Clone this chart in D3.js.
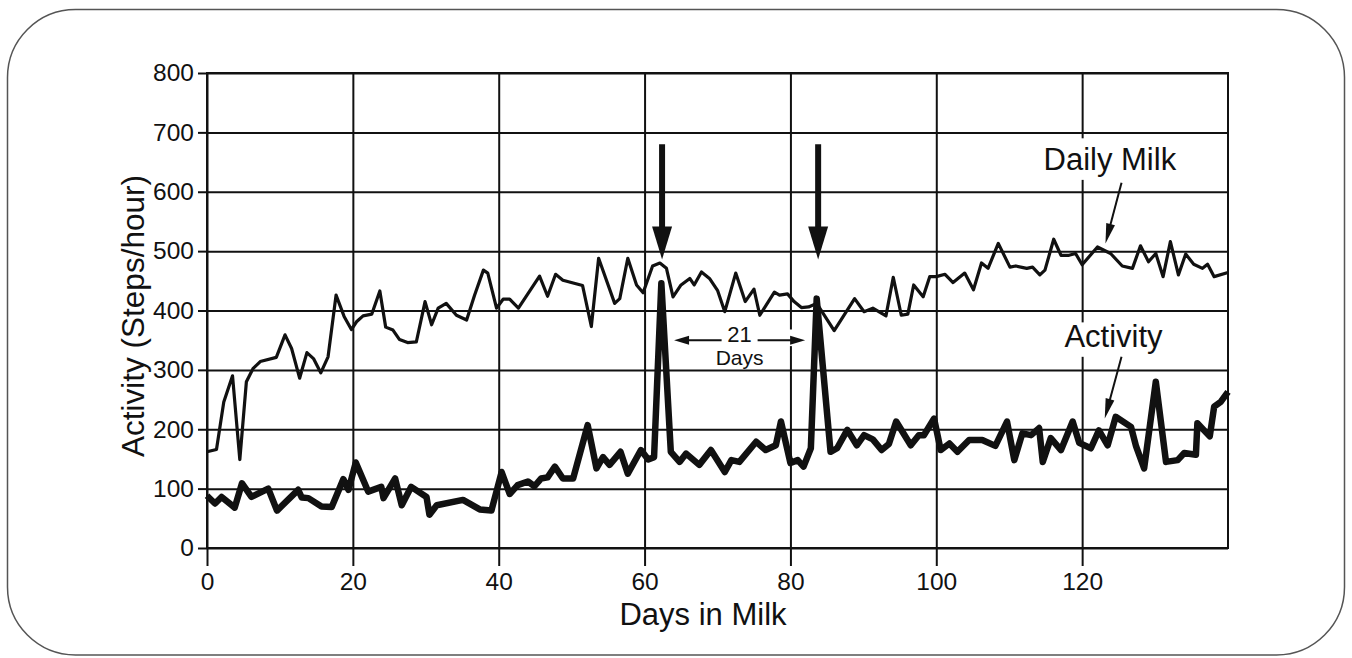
<!DOCTYPE html>
<html>
<head>
<meta charset="utf-8">
<script src="https://cdn.jsdelivr.net/npm/d3@7"></script>
<style>
  body { margin: 0; background: #fff; }
  svg text { font-family: "Liberation Sans", Arial, Helvetica, sans-serif; fill: #111; }
</style>
</head>
<body>
<div id="chart"></div>
<script>
// data
var milkDays = [0, 1.3, 2.3, 3.5, 4.5, 5.4, 6.3, 7.3, 9.5, 10.7, 11.6, 12.7, 13.7, 14.6, 15.6, 16.6, 17.7, 18.8, 19.8,
	20.5, 21.4, 22.6, 23.7, 24.5, 25.5, 26.4, 27.5, 28.7, 29.9, 30.8, 31.7, 32.8, 34.2, 35.6, 36.7, 37.9, 38.5, 39.7,
	40.6, 41.5, 42.7, 45.6, 46.7, 47.8, 48.8, 51.5, 52.7, 53.7, 55.9, 56.6, 57.7, 58.9, 59.8, 61.1, 62.1, 63, 63.9,
	65, 66.2, 66.8, 67.8, 68.9, 70, 71, 72.5, 73.8, 75, 75.8, 77.8, 78.5, 79.6, 80.5, 81.5, 82.5, 83.6, 86, 88.8,
	90.1, 91.3, 93.1, 94.1, 95.2, 96.1, 96.9, 98.2, 99.1, 100, 101.2, 102.3, 103.9, 105.1, 106.2, 107.1, 108.5,
	110.1, 110.9, 112.4, 113.2, 114.2, 114.9, 116.1, 117.1, 118.2, 119.1, 120, 122.1, 123.9, 125.5, 126.9, 128,
	129.1, 130.1, 131.1, 132.1, 133.2, 134.2, 135.3, 136.5, 137.2, 138.1, 140];
var milkValues = [162, 166, 246, 290, 149, 280, 302, 314, 321, 359, 336, 286, 329, 319, 295, 322, 426, 390, 368,
	381, 391, 394, 433, 372, 367, 351, 346, 347, 415, 376, 404, 412, 392, 384, 426, 468, 463, 404,
	419, 419, 404, 458, 424, 461, 451, 442, 373, 488, 412, 420, 488, 443, 430, 475, 480, 471, 423,
	443, 454, 443, 465, 454, 434, 398, 463, 415, 436, 392, 431, 426, 428, 415, 405, 406, 412, 366, 420,
	398, 404, 391, 456, 392, 394, 443, 423, 457, 457, 461, 447, 463, 435, 480, 471, 513,
	473, 475, 471, 473, 460, 468, 520, 493, 493, 496, 477, 507, 496, 475, 471, 509,
	482, 496, 457, 516, 460, 495, 478, 471, 478, 457, 464];

var activityDays = [0, 1.1, 2, 3.8, 4.8, 6.1, 8.4, 9.6, 12.5, 13, 13.9, 15.7, 17.1, 18.7, 19.4, 20.4, 22.1, 23.9,
	24.2, 25.8, 26.7, 28, 30.1, 30.5, 31.5, 35.1, 37.4, 39, 40.4, 41.5, 42.6, 44, 44.9, 45.8, 46.7, 47.7, 48.8,
	50.2, 52.2, 53.4, 54.3, 55.2, 56.7, 57.7, 59.5, 60.5, 61.3, 62.3, 63.6, 64.8, 65.7, 67.5, 69.1, 71, 71.9, 73,
	75.3, 76.6, 78, 78.7, 80, 81, 81.8, 82.8, 83.6, 85.5, 86.4, 87.8, 89.1, 90.1, 91.3, 92.5, 93.5, 94.5, 96.5,
	97.6, 98.3, 99.7, 100.6, 101.8, 102.9, 104.5, 106.3, 108.1, 109.7, 110.7, 111.8, 113, 114.1, 114.6, 115.7,
	117.1, 118.7, 119.6, 121.2, 122.3, 123.5, 124.6, 126.7, 127.4, 128.5, 130.1, 131.5, 133.1, 134, 135.6, 135.8,
	137.5, 138.1, 139, 140];
var activityValues = [88, 75, 86, 68, 109, 86, 100, 63, 98, 85, 84, 70, 69, 116, 98, 144, 95, 103,
	84, 117, 72, 103, 86, 56, 72, 81, 65, 63, 128, 91, 106, 112, 104, 117, 119, 137, 117,
	117, 207, 134, 153, 140, 162, 125, 165, 149, 153, 446, 162, 145, 159, 140, 165, 128, 148, 145,
	179, 165, 173, 213, 143, 148, 137, 168, 420, 162, 168, 199, 173, 190, 183, 165, 175, 213, 173,
	190, 190, 218, 165, 176, 162, 182, 182, 172, 213, 148, 193, 190, 202, 145, 185,
	165, 213, 177, 168, 198, 173, 221, 204, 171, 134, 280, 145, 148, 160, 157, 210,
	188, 238, 246, 263];

var xTicks = [0, 20, 40, 60, 80, 100, 120];
var yTicks = [0, 100, 200, 300, 400, 500, 600, 700, 800];
var heatDays = [62.4, 83.8];

var W = 1352, H = 658;
var margin = { top: 73, right: 124, bottom: 110, left: 207 };
var width = W - margin.left - margin.right,
	height = H - margin.top - margin.bottom;

var svg = d3.select("#chart").append("svg")
	.attr("width", W)
	.attr("height", H);

// rounded frame
svg.append("rect")
	.attr("x", 7.5).attr("y", 9.5)
	.attr("width", 1337).attr("height", 645.5)
	.attr("rx", 68).attr("ry", 68)
	.attr("fill", "none")
	.attr("stroke", "#555")
	.attr("stroke-width", 1.5);

var g = svg.append("g")
	.attr("transform", "translate(" + margin.left + "," + margin.top + ")");

var x = d3.scaleLinear().domain([0, 140]).range([0, width]);
var y = d3.scaleLinear().domain([0, 800]).range([height, 0]);

// grid
g.append("g")
	.attr("class", "grid")
	.call(d3.axisLeft(y).tickValues(yTicks).tickSize(-width).tickFormat(""))
	.call(function(s){ s.select(".domain").remove(); });
g.append("g")
	.attr("class", "grid")
	.attr("transform", "translate(0," + height + ")")
	.call(d3.axisBottom(x).tickValues(xTicks).tickSize(height).tickSizeOuter(0).tickFormat(""))
	.call(function(s){ s.select(".domain").remove(); })
	.selectAll(".tick line").attr("transform", "translate(0," + (-height) + ")");
g.selectAll(".grid line").attr("stroke", "#111").attr("stroke-width", 2);

g.append("rect")
	.attr("width", width).attr("height", height)
	.attr("fill", "none").attr("stroke", "#111").attr("stroke-width", 2);

// axes
var yAxis = g.append("g")
	.call(d3.axisLeft(y).tickValues(yTicks).tickSize(9).tickPadding(4).tickSizeOuter(0));
var xAxis = g.append("g")
	.attr("transform", "translate(0," + height + ")")
	.call(d3.axisBottom(x).tickValues(xTicks).tickSize(18).tickPadding(7).tickSizeOuter(0));
[yAxis, xAxis].forEach(function(a){
	a.select(".domain").remove();
	a.selectAll(".tick line").attr("stroke", "#111").attr("stroke-width", 2);
	a.selectAll(".tick text")
		.attr("font-size", 24.5)
		.attr("fill", "#111")
		.style("font-family", "'Liberation Sans', Arial, sans-serif");
});

// white boxes behind labels (cut the 120 gridline)
g.append("rect").attr("x", x(118.5)).attr("y", y(690)).attr("width", x(130.5) - x(118.5)).attr("height", y(620) - y(690)).attr("fill", "#fff");
g.append("rect").attr("x", x(118.5)).attr("y", y(380)).attr("width", x(130.5) - x(118.5)).attr("height", y(322) - y(380)).attr("fill", "#fff");
g.append("rect").attr("x", x(79.3)).attr("y", y(368)).attr("width", x(80.6) - x(79.3)).attr("height", y(340) - y(368)).attr("fill", "#fff");

// lines
var lineGen = d3.line()
	.x(function(d){ return x(d[0]); })
	.y(function(d){ return y(d[1]); });

g.append("path")
	.datum(d3.zip(milkDays, milkValues))
	.attr("d", lineGen)
	.attr("fill", "none")
	.attr("stroke", "#111")
	.attr("stroke-width", 3.2)
	.attr("stroke-linejoin", "round");

g.append("path")
	.datum(d3.zip(activityDays, activityValues))
	.attr("d", lineGen)
	.attr("fill", "none")
	.attr("stroke", "#111")
	.attr("stroke-width", 6.5)
	.attr("stroke-linejoin", "round");

// arrow helper: shaft + filled triangle head
function arrow(x1, y1, x2, y2, headLen, headW, shaftW){
	var dx = x2 - x1, dy = y2 - y1, len = Math.sqrt(dx * dx + dy * dy);
	var ux = dx / len, uy = dy / len;
	var bx = x2 - ux * headLen, by = y2 - uy * headLen;
	g.append("line")
		.attr("x1", x1).attr("y1", y1).attr("x2", bx + ux * 1).attr("y2", by + uy * 1)
		.attr("stroke", "#111").attr("stroke-width", shaftW);
	g.append("path")
		.attr("d", "M" + x2 + "," + y2 +
			"L" + (bx - uy * headW / 2) + "," + (by + ux * headW / 2) +
			"L" + (bx + uy * headW / 2) + "," + (by - ux * headW / 2) + "Z")
		.attr("fill", "#111");
}

// heat arrows
heatDays.forEach(function(d){
	arrow(x(d), y(680), x(d), y(486), 33, 20, 6);
});

// 21 days
var leftTip = x(heatDays[0]) + 12, rightTip = x(heatDays[1]) - 13, midX = (leftTip + rightTip) / 2;
arrow(midX - 18, y(350), leftTip, y(350), 15, 9, 2);
arrow(midX + 18, y(350), rightTip, y(350), 15, 9, 2);
g.append("text").attr("x", midX).attr("y", y(347)).attr("text-anchor", "middle").attr("font-size", 22).text("21");
g.append("text").attr("x", midX).attr("y", y(308)).attr("text-anchor", "middle").attr("font-size", 21).text("Days");

// series labels with callouts
g.append("text").attr("x", x(123.8)).attr("y", y(637)).attr("text-anchor", "middle").attr("font-size", 31).text("Daily Milk");
arrow(x(125.4), y(615), x(123.2), y(513), 20, 9, 2);
g.append("text").attr("x", x(124.3)).attr("y", y(339)).attr("text-anchor", "middle").attr("font-size", 31).text("Activity");
arrow(x(125.4), y(322), x(123.1), y(218), 20, 9, 2);

// axis titles
svg.append("text")
	.attr("x", 703).attr("y", 625)
	.attr("text-anchor", "middle")
	.attr("font-size", 31)
	.text("Days in Milk");
svg.append("text")
	.attr("transform", "translate(144,316) rotate(-90)")
	.attr("text-anchor", "middle")
	.attr("font-size", 31.5)
	.text("Activity (Steps/hour)");
</script>
</body>
</html>
